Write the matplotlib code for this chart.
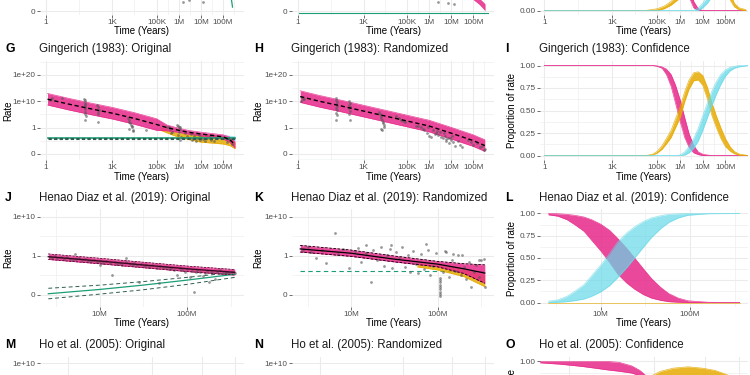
import numpy as np
import matplotlib
matplotlib.use("Agg")
import matplotlib.pyplot as plt
from matplotlib.ticker import FixedLocator, FixedFormatter, NullFormatter

plt.rcParams['font.family'] = ['Liberation Sans', 'DejaVu Sans']

# ======================= data =======================
TIME_TICKS = [1, 1e3, 1e5, 1e6, 1e7, 1e8]
TIME_LABELS = ["1", "1K", "100K", "1M", "10M", "100M"]
TIME_MINOR = [31.6, 1e4, 3.16e5, 3.16e6, 3.16e7, 3.16e8]
HD_TICKS = [1e7, 1e8]
HD_LABELS = ["10M", "100M"]
HD_MINOR = [3.16e6, 3.16e7, 3.16e8]
HO_GRID = [4.9e4, 5.6e6, 9.3e7, 6.0e8]
RATE_TICKS = [0, 1, 1e10, 1e20]
RATE_LABELS = ["0", "1", "1e+10", "1e+20"]
RATE_MINOR = [0.5, 1e5, 1e15, 1e25]
PROP_TICKS = [0, 0.25, 0.5, 0.75, 1.0]
PROP_LABELS = ["0.00", "0.25", "0.50", "0.75", "1.00"]
PROP_MINOR = [0.125, 0.375, 0.625, 0.875]

# --- top row (only bottom strip visible) ---
D_POINTS = [(1.5e6, 0.36), (3e6, 0.40), (1.2e7, 0.33)]
D_GREEN_T = [2.3e8, 2.5e8, 2.7e8]
D_GREEN_R = [0.55, 0.35, 0.15]
E_POINTS = [(2.4e6, 0.34), (6.8e6, 0.30), (1.4e7, 0.27)]
E_GREEN_T = [1.2, 5e8]
E_GREEN_R = [-0.07, -0.07]
E_PINK_T = [1e8, 2e8, 3.5e8]
E_PINK_LO = [0.45, 0.25, 0.03]
E_PINK_HI = [0.65, 0.45, 0.25]
F_T = [1, 3e4, 1e5, 2e5, 4e5, 8e5, 1.6e6, 2.5e6, 4e6, 6.3e6, 1e7, 1.6e7, 2.5e7, 5e7, 1e8, 1.6e8, 2.5e8, 4e8, 8e8]
F_GOLD_LO = [0, 0, 0, .02, .06, .12, .22, .30, .38, .45, .50, .55, .55, .50, .30, .12, .04, .01, 0]
F_GOLD_HI = [0, 0, .02, .05, .10, .18, .30, .40, .48, .55, .60, .65, .65, .60, .42, .20, .08, .03, .01]
F_PINK_LO = [1, 1, 1, 1, .99, .90, .40, .15, .03, 0, 0, 0, 0, 0, 0, 0, 0, 0, 0]
F_PINK_HI = [1, 1, 1, 1, 1, .98, .60, .30, .10, .02, 0, 0, 0, 0, 0, 0, 0, 0, 0]
F_CYAN_LO = [0, 0, 0, 0, 0, 0, 0, 0, 0, 0, .03, .08, .15, .30, .60, .85, .95, .99, 1]
F_CYAN_HI = [0, 0, 0, 0, 0, 0, 0, 0, 0, .03, .08, .15, .25, .42, .70, .88, .97, 1, 1]

# --- G: Gingerich (1983) Original ---
G_POINTS = [(1.6, 3e10), (1.8, 8e10), (2.0, 1.5e11), (5.4, 2.5e11),
            (55, 1e11), (57, 2e5), (58, 3e10), (58, 5e7), (60, 6e9), (60, 3e8), (60, 1e6), (60, 800),
            (62, 1e9), (62, 8e6), (63, 3e4),
            (210, 4e8), (220, 1e6), (230, 5e7), (230, 200), (240, 2e5), (250, 6e6),
            (5000, 4000), (5500, 800), (6000, 200), (6000, 0.95), (6500, 50), (7000, 12), (7500, 3),
            (8000, 1.5), (8500, 0.9), (9000, 0.88), (3.5e4, 0.91),
            (3e5, 2), (3.5e5, 1.2), (4e5, 0.95), (4.5e5, 0.8), (5e5, 0.85),
            (8e5, 15), (9e5, 5), (9e5, 0.72), (1e6, 2), (1e6, 0.85), (1.1e6, 1.2), (1.1e6, 0.55),
            (1.2e6, 0.95), (1.3e6, 0.65), (1.5e6, 0.6),
            (2e6, 0.8), (2.5e6, 0.7), (3e6, 0.62), (3.5e6, 0.75), (4e6, 0.55), (5e6, 0.68), (6e6, 0.5),
            (7e6, 0.6), (8e6, 0.72), (9e6, 0.52), (1e7, 0.65), (1.2e7, 0.58), (1.5e7, 0.48), (2e7, 0.62),
            (2.5e7, 0.7), (3e7, 0.55), (4e7, 0.5),
            (1e8, 0.6), (1.5e8, 0.45), (2e8, 0.55), (2.5e8, 0.38)]
G_T = [1.2, 10, 100, 1e3, 1e4, 1e5, 3e5, 1e6, 3e6, 1e7, 3e7, 1e8, 2e8, 3.5e8]
G_MID = [6.3e10, 1e9, 1.6e7, 3.2e5, 3.2e3, 16, 1.0, 0.9, 0.82, 0.76, 0.71, 0.65, 0.55, 0.35]
G_LO = [4e8, 6.3e6, 1e5, 2e3, 20, 0.9, 0.88, 0.82, 0.75, 0.69, 0.64, 0.57, 0.45, 0.23]
G_HI = [1e13, 1.6e11, 2.5e9, 5e7, 5e5, 2.5e3, 10, 0.98, 0.89, 0.83, 0.78, 0.73, 0.65, 0.47]
G_GOLD_T = [1.5e5, 1e6, 1e7, 1e8, 2e8, 3.5e8]
G_GOLD_LO = [0.9, 0.63, 0.45, 0.38, 0.32, 0.2]
G_GOLD_HI = [1.0, 0.8, 0.72, 0.66, 0.58, 0.42]
G_CYAN_T = [5e6, 1e7, 1e8, 3.5e8]
G_CYAN_LO = [0.62, 0.6, 0.58, 0.52]
G_CYAN_HI = [0.75, 0.72, 0.7, 0.66]
G_NULL_T = [1.2, 3.5e8]
G_NULL_MID = [0.6, 0.6]
G_NULL_LO = [0.575, 0.575]
G_NULL_HI = [0.625, 0.625]

# --- H: Gingerich (1983) Randomized ---
H_POINTS = [(1.4, 1e10), (1.5, 3e11), (1.7, 5e10), (2.0, 1e11),
            (55, 4e10), (57, 2e11), (57, 1e9), (58, 3e7), (58, 800), (56, 5e5), (60, 8e9), (60, 4e6),
            (60, 5e4), (62, 2e8),
            (210, 4e8), (220, 1e10), (220, 2e7), (225, 2e5), (230, 2e9), (230, 3e6), (235, 800), (240, 1e8),
            (5000, 1e6), (5500, 2e5), (6000, 3e4), (6000, 0.95), (6500, 6e3), (7000, 1e3), (7000, 0.91),
            (7500, 200), (8000, 40), (8500, 8), (9000, 2),
            (3e4, 3e4), (4e4, 5e3), (5e4, 1e3), (6e4, 300), (8e4, 100),
            (2.5e5, 6), (3e5, 3), (4e5, 1.5), (5e5, 0.95), (6e5, 0.9), (8e5, 0.8), (9e5, 1.2), (1e6, 0.7),
            (1.2e6, 0.65), (1.5e6, 0.9), (1.8e6, 0.75), (2e6, 0.8), (2.2e6, 0.88), (2.5e6, 0.72), (3e6, 0.85),
            (3.5e6, 0.65), (4e6, 0.6), (4.5e6, 0.78), (5e6, 0.7), (5.5e6, 0.58), (6e6, 0.5), (7e6, 0.62),
            (8e6, 0.4), (9e6, 0.6), (1e7, 0.55), (1.1e7, 0.7), (1.2e7, 0.45), (1.5e7, 0.3), (2e7, 0.5),
            (2.5e7, 0.35), (3e7, 0.25),
            (6e7, 0.55), (8e7, 0.45), (1e8, 0.35), (1.5e8, 0.4), (2e8, 0.25), (2.5e8, 0.3), (3e8, 0.15),
            (3.5e8, 0.2)]
H_T = [1.3, 10, 100, 1e3, 1e4, 1e5, 1e6, 1e7, 1e8, 3.4e8]
H_MID = [6.3e11, 1e10, 1.6e8, 2e6, 2.5e4, 316, 4, 0.79, 0.51, 0.32]
H_LO = [4e9, 6.3e7, 1e6, 1.26e4, 158, 2, 0.84, 0.57, 0.29, 0.1]
H_HI = [1e14, 1.6e12, 2.5e10, 3.2e8, 4e6, 5e4, 630, 1.26, 0.73, 0.54]
H_NULL_T = [1.2, 4e8]
H_NULL_R = [-0.22, -0.22]

# --- I: Gingerich (1983) Confidence ---
I_T = [1, 3.2e4, 6.3e4, 1e5, 1.6e5, 2.5e5, 4e5, 6.3e5, 1e6, 1.6e6, 2.5e6, 4e6, 6.3e6, 1e7, 1.6e7,
       2.5e7, 4e7, 6.3e7, 1e8, 1.6e8, 2.5e8, 4e8, 1e9]
I_PINK_HI = [1, 1, 1, .995, .985, .96, .90, .78, .62, .42, .24, .11, .04, .015, .005, 0, 0, 0, 0, 0, 0, 0, 0]
I_PINK_LO = [1, 1, 1, .99, .97, .90, .77, .58, .38, .20, .09, .03, .01, 0, 0, 0, 0, 0, 0, 0, 0, 0, 0]
I_GOLD_HI = [0, 0, .015, .05, .11, .19, .28, .41, .54, .71, .84, .92, .93, .89, .76, .59, .44, .31, .19, .10, .045, .017, 0]
I_GOLD_LO = [0, 0, .005, .03, .07, .13, .20, .31, .42, .60, .74, .83, .84, .78, .63, .45, .31, .19, .10, .05, .02, .005, 0]
I_CYAN_HI = [0, 0, 0, 0, 0, 0, 0, 0, .005, .04, .10, .19, .30, .44, .58, .71, .82, .90, .95, .98, .99, 1, 1]
I_CYAN_LO = [0, 0, 0, 0, 0, 0, 0, 0, 0, .005, .03, .08, .16, .28, .42, .55, .68, .79, .88, .94, .97, .985, 1]

# --- J: Henao Diaz et al. (2019) Original ---
J_POINTS = [(2.7e6, .97), (2.9e6, .95), (3.1e6, .99), (3.3e6, .94), (3.6e6, .96), (3.9e6, .92), (4.2e6, .97),
            (4.6e6, .93), (5.0e6, .90), (5.2e6, 3.2), (5.4e6, .91), (5.8e6, .94), (6.3e6, .89), (6.8e6, .92),
            (7.4e6, .88), (8.0e6, .86), (8.6e6, .90), (9.3e6, .84), (1.0e7, .88), (1.0e7, .77), (1.1e7, .83),
            (1.2e7, .86), (1.3e7, .82), (1.4e7, .51), (1.5e7, .85), (1.6e7, .80), (1.7e7, .83), (1.8e7, .78),
            (2.0e7, .84), (2.0e7, .94), (2.2e7, .79), (2.4e7, .76), (2.5e7, .82), (2.7e7, .77), (2.8e7, .34),
            (3.0e7, .80), (3.2e7, .74), (3.4e7, .78), (3.7e7, .72), (4.0e7, .76), (4.5e7, .70), (4.8e7, .31),
            (4.9e7, .74), (5.3e7, .68), (5.7e7, .72), (6.2e7, .66), (6.6e7, .70), (7.1e7, .64), (7.6e7, .50),
            (8.2e7, .68), (8.8e7, .63), (9.4e7, .60), (1.0e8, .66), (1.07e8, .45), (1.15e8, .62), (1.2e8, .08),
            (1.25e8, .58), (1.3e8, .64), (1.4e8, .60), (1.5e8, .48), (1.6e8, .57), (1.7e8, .62), (1.8e8, .34),
            (1.9e8, .60), (2.0e8, .55), (2.1e8, .40), (2.2e8, .58), (2.4e8, .63), (2.6e8, .56), (2.8e8, .59),
            (3.0e8, .55), (3.3e8, .60), (3.5e8, .56)]
J_T = [2.6e6, 1e7, 3.1e7, 1e8, 3.5e8]
J_MID = [0.98, 0.87, 0.77, 0.67, 0.58]
J_LO = [0.91, 0.80, 0.70, 0.60, 0.51]
J_HI = [3.2, 0.94, 0.84, 0.74, 0.65]
J_NULL_MID = [0.03, 0.14, 0.25, 0.38, 0.53]
J_NULL_LO = [-0.10, 0.02, 0.13, 0.27, 0.45]
J_NULL_HI = [0.17, 0.25, 0.34, 0.45, 0.58]

# --- K: Henao Diaz et al. (2019) Randomized ---
K_POINTS = [(2.8e6, 30), (3.2e6, 150), (3.5e6, 8), (4.0e6, .95), (4.6e6, 40), (5.2e6, .81), (6.5e6, 1e6),
            (7.0e6, 3), (8.0e6, 60), (9.6e6, .70), (1.1e7, 20), (1.2e7, 100), (1.3e7, .85), (1.5e7, 5),
            (1.5e7, 500), (1.7e7, .32), (1.8e7, 30), (2.0e7, .90), (2.2e7, 200), (2.4e7, .75), (2.6e7, 2),
            (2.8e7, 60), (2.9e7, 800), (3.0e7, .68), (3.3e7, 8), (3.6e7, .95), (3.9e7, 250), (4.2e7, .72),
            (4.5e7, 1.5), (4.8e7, .60), (5.2e7, 15), (5.6e7, .80), (6.0e7, .55), (6.5e7, 3), (7.0e7, .66),
            (7.4e7, 1000), (7.8e7, 40), (8.2e7, .50), (8.8e7, .75), (9.5e7, 6),
            (1.07e8, .44), (1.07e8, .38), (1.07e8, .32), (1.07e8, .26), (1.07e8, .20), (1.07e8, .14),
            (1.07e8, .08), (1.07e8, .02), (1.07e8, -.04),
            (1.15e8, .58), (1.2e8, 20), (1.25e8, 10), (1.35e8, .45), (1.45e8, .90), (1.5e8, 4), (1.6e8, .62),
            (1.7e8, 2), (1.85e8, .50), (1.9e8, 2), (2.0e8, .72), (2.15e8, .40), (2.3e8, .85), (2.4e8, .21),
            (2.6e8, .60), (2.8e8, .78), (3.0e8, .90), (3.0e8, .45), (3.2e8, .90), (3.4e8, .92), (3.5e8, .21)]
K_T = [2.6e6, 1e7, 3.1e7, 1e8, 2e8, 3.5e8]
K_MID = [63, 5, 0.92, 0.79, 0.67, 0.56]
K_LO = [10, 0.99, 0.85, 0.72, 0.55, 0.30]
K_HI = [500, 32, 1.0, 0.86, 0.80, 0.77]
K_GOLD_T = [5.8e7, 1e8, 2e8, 3.5e8]
K_GOLD_LO = [0.72, 0.64, 0.47, 0.21]
K_GOLD_HI = [0.80, 0.76, 0.66, 0.50]
K_NULL_T = [2.6e6, 3.5e8]
K_NULL_R = [0.62, 0.62]

# --- L: Henao Diaz et al. (2019) Confidence ---
L_T = [2.6e6, 3.3e6, 4.2e6, 5.2e6, 6.5e6, 7.9e6, 1e7, 1.26e7, 1.55e7, 1.95e7, 2.4e7, 3e7, 3.7e7, 4.7e7,
       5.8e7, 7.4e7, 9.5e7, 1.6e8, 3.6e8]
L_PINK_HI = [1, .997, .99, .978, .96, .93, .88, .81, .72, .61, .50, .38, .27, .17, .10, .05, .02, .003, 0]
L_PINK_LO = [.985, .97, .93, .87, .80, .70, .58, .45, .32, .22, .15, .09, .05, .025, .01, .004, 0, 0, 0]
L_CYAN_LO = [0, .003, .01, .022, .04, .07, .12, .19, .28, .39, .50, .62, .73, .83, .90, .95, .98, .997, 1]
L_CYAN_HI = [.015, .03, .07, .13, .20, .30, .42, .55, .68, .78, .85, .91, .95, .975, .99, .996, 1, 1, 1]
L_GOLD_T = [2.6e6, 3.6e8]
L_GOLD_R = [0, 0]

# --- O: Ho et al. (2005) Confidence (top strip visible) ---
O_PINK_T = [1e4, 3e4, 1e5, 2.5e5, 4.3e5, 8e5, 1.6e6, 2.5e6, 4e6, 6.3e6, 1e7, 2e7]
O_PINK_HI = [1, 1, 1, 1, 1, .99, .95, .90, .82, .72, .60, .45]
O_PINK_LO = [.985, .97, .945, .92, .905, .89, .87, .84, .78, .70, .58, .42]
O_GOLD_T = [1.6e6, 2.5e6, 4e6, 7.9e6, 1.6e7, 3.6e7, 7.9e7, 1.6e8, 3.2e8, 5e8, 7.9e8]
O_GOLD_HI = [.55, .70, .82, .89, .925, .94, .925, .90, .85, .80, .70]
O_GOLD_LO = [.40, .50, .62, .72, .78, .80, .78, .73, .65, .58, .50]

# ======================= style =======================
PINK, GOLD, CYAN = "#E7298A", "#E6AB02", "#66D9E8"
GREEN, DKGREEN, PTC = "#1B9E77", "#2E5E50", "#555555"
GRID = "#EBEBEB"
W, H = 750, 375
COLS = [(40, 244), (292, 494), (540, 748)]
TAG_X = [5, 254, 505]
YLAB_X = [8, 258, 512]
ROWS = {'top': (-84, 15), 'g': (61, 160), 'j': (209, 307), 'm': (357, 455)}
TITLE_Y = {'g': 49, 'j': 198, 'm': 345}

TIME_XLIM = (10 ** -0.26, 10 ** 8.95)
TIME_XLIM_C = (10 ** -0.19, 10 ** 9.0)
HD_XLIM = (10 ** 6.32, 10 ** 8.65)
HO_XLIM = (1e4, 1e9)
PROP_YLIM = (-0.05, 1.05)


def rate_fwd(y):
    y = np.asarray(y, dtype=float)
    return np.where(y <= 1, y, 1 + np.log10(np.clip(y, 1, None)) / 10)


def rate_inv(u):
    u = np.asarray(u, dtype=float)
    return np.where(u <= 1, u, 10 ** ((np.clip(u, 1, 40) - 1) * 10))


fig = plt.figure(figsize=(7.5, 3.75), dpi=100)
fig.patch.set_facecolor("white")


def panel(col, row, xkind, ykind, xlabel=True, ylabel=None):
    x0, x1 = COLS[col]
    y0, y1 = ROWS[row]
    ax = fig.add_axes([x0 / W, 1 - y1 / H, (x1 - x0) / W, (y1 - y0) / H])
    ax.set_xscale('log')
    if xkind == 'time':
        ax.set_xlim(*(TIME_XLIM_C if col == 2 else TIME_XLIM))
        xt, xl, xm = TIME_TICKS, TIME_LABELS, TIME_MINOR
    elif xkind == 'hd':
        ax.set_xlim(*HD_XLIM)
        xt, xl, xm = HD_TICKS, HD_LABELS, HD_MINOR
    else:
        ax.set_xlim(*HO_XLIM)
        xt, xl, xm = HO_GRID, [""] * len(HO_GRID), []
    ax.xaxis.set_major_locator(FixedLocator(xt))
    ax.xaxis.set_major_formatter(FixedFormatter(xl))
    ax.xaxis.set_minor_locator(FixedLocator(xm))
    ax.xaxis.set_minor_formatter(NullFormatter())
    if ykind == 'prop':
        ax.set_ylim(*PROP_YLIM)
        yt, yl, ym = PROP_TICKS, PROP_LABELS, PROP_MINOR
    else:
        ax.set_yscale('function', functions=(rate_fwd, rate_inv))
        lims = {'top': (-0.15, 1e26), 'g': (-0.228, 2e25), 'j': (-0.31, 1.1e12), 'm': (-0.36, 3.5e11)}
        ax.set_ylim(*lims[row])
        yt, yl, ym = RATE_TICKS, RATE_LABELS, RATE_MINOR
    ax.yaxis.set_major_locator(FixedLocator(yt))
    ax.yaxis.set_major_formatter(FixedFormatter(yl))
    ax.yaxis.set_minor_locator(FixedLocator(ym))
    ax.yaxis.set_minor_formatter(NullFormatter())
    for s in ax.spines.values():
        s.set_visible(False)
    ax.set_axisbelow(True)
    ax.grid(True, which='major', color=GRID, lw=0.75)
    ax.grid(True, which='minor', color=GRID, lw=0.4)
    ax.tick_params(which='major', length=2, width=0.5, color='#333333', labelsize=5.9,
                   labelcolor='#4D4D4D', pad=1.2)
    ax.tick_params(which='minor', length=0)
    h = y1 - y0
    if xlabel:
        ax.set_xlabel("Time (Years)", fontsize=7, color='black')
        ax.xaxis.set_label_coords(0.5, -16.5 / h)
        ax.xaxis.label.set_va('center')
    if ylabel:
        ax.set_ylabel(ylabel, fontsize=7, color='black')
        ax.yaxis.set_label_coords((YLAB_X[col] - x0) / (x1 - x0), 0.5)
        ax.yaxis.label.set_va('center')
    return ax


def heading(col, row, tag, text):
    y = 1 - TITLE_Y[row] / H
    fig.text(TAG_X[col] / W, y, tag, fontsize=8.8, fontweight='bold', va='center', ha='left')
    fig.text((COLS[col][0] - 1) / W, y, text, fontsize=8.3, va='center', ha='left', color='#1A1A1A')


def band(ax, t, lo, hi, color, alpha, z=2, edge=True):
    ax.fill_between(t, lo, hi, color=color, alpha=alpha, lw=0, zorder=z)
    if edge:
        ax.plot(t, lo, color=color, lw=0.5, alpha=alpha, zorder=z)
        ax.plot(t, hi, color=color, lw=0.5, alpha=alpha, zorder=z)


def points(ax, pts, z=3):
    t, r = np.array(pts).T
    ax.scatter(t, r, s=4, c=PTC, alpha=0.6, lw=0, zorder=z)


# ---------------- top row ----------------
axD = panel(0, 'top', 'time', 'rate')
points(axD, D_POINTS)
axD.plot(D_GREEN_T, D_GREEN_R, color=GREEN, lw=0.9, zorder=4)

axE = panel(1, 'top', 'time', 'rate')
axE.plot(E_GREEN_T, E_GREEN_R, color=GREEN, lw=0.8, zorder=2)
points(axE, E_POINTS)
band(axE, E_PINK_T, E_PINK_LO, E_PINK_HI, PINK, 0.85)

axF = panel(2, 'top', 'time', 'prop')
band(axF, F_T, F_PINK_LO, F_PINK_HI, PINK, 0.85)
band(axF, F_T, F_GOLD_LO, F_GOLD_HI, GOLD, 0.85)
band(axF, F_T, F_CYAN_LO, F_CYAN_HI, CYAN, 0.75)

# ---------------- G ----------------
axG = panel(0, 'g', 'time', 'rate', ylabel="Rate")
heading(0, 'g', "G", "Gingerich (1983): Original")
band(axG, G_CYAN_T, G_CYAN_LO, G_CYAN_HI, CYAN, 0.75)
band(axG, G_GOLD_T, G_GOLD_LO, G_GOLD_HI, GOLD, 0.85)
band(axG, G_T, G_LO, G_HI, PINK, 0.85)
points(axG, G_POINTS)
axG.plot(G_NULL_T, G_NULL_MID, color=GREEN, lw=1.2, zorder=4)
axG.plot(G_NULL_T, G_NULL_LO, color=DKGREEN, lw=0.8, ls=(0, (3, 2)), zorder=5)
axG.plot(G_NULL_T, G_NULL_HI, color=DKGREEN, lw=0.8, ls=(0, (3, 2)), zorder=5)
axG.plot(G_T, G_MID, color='black', lw=1.0, ls=(0, (3, 2)), zorder=6)

# ---------------- H ----------------
axH = panel(1, 'g', 'time', 'rate', ylabel="Rate")
heading(1, 'g', "H", "Gingerich (1983): Randomized")
band(axH, H_T, H_LO, H_HI, PINK, 0.85)
points(axH, H_POINTS)
axH.plot(H_NULL_T, H_NULL_R, color=GREEN, lw=0.8, zorder=4)
axH.plot(H_T, H_MID, color='black', lw=1.0, ls=(0, (3, 2)), zorder=6)

# ---------------- I ----------------
axI = panel(2, 'g', 'time', 'prop', ylabel="Proportion of rate")
heading(2, 'g', "I", "Gingerich (1983): Confidence")
band(axI, I_T, I_PINK_LO, I_PINK_HI, PINK, 0.85)
band(axI, I_T, I_GOLD_LO, I_GOLD_HI, GOLD, 0.85)
band(axI, I_T, I_CYAN_LO, I_CYAN_HI, CYAN, 0.75)

# ---------------- J ----------------
axJ = panel(0, 'j', 'hd', 'rate', ylabel="Rate")
heading(0, 'j', "J", "Henao Diaz et al. (2019): Original")
band(axJ, J_T, J_LO, J_HI, PINK, 0.85)
axJ.plot(J_T, J_NULL_MID, color=GREEN, lw=0.9, zorder=4)
axJ.plot(J_T, J_NULL_LO, color=DKGREEN, lw=0.7, ls=(0, (4, 3)), zorder=4)
axJ.plot(J_T, J_NULL_HI, color=DKGREEN, lw=0.7, ls=(0, (4, 3)), zorder=4)
points(axJ, J_POINTS, z=5)
axJ.plot(J_T, J_MID, color='#3A0A22', lw=1.0, zorder=6)
axJ.plot(J_T, J_LO, color='#3A0A22', lw=0.5, ls=(0, (3, 2)), zorder=6)
axJ.plot(J_T, J_HI, color='#3A0A22', lw=0.5, ls=(0, (3, 2)), zorder=6)

# ---------------- K ----------------
axK = panel(1, 'j', 'hd', 'rate', ylabel="Rate")
heading(1, 'j', "K", "Henao Diaz et al. (2019): Randomized")
axK.plot(K_NULL_T, K_NULL_R, color=GREEN, lw=0.8, ls=(0, (4, 3)), zorder=2)
band(axK, K_GOLD_T, K_GOLD_LO, K_GOLD_HI, GOLD, 0.85)
band(axK, K_T, K_LO, K_HI, PINK, 0.85)
points(axK, K_POINTS, z=5)
axK.plot(K_T, K_MID, color='black', lw=0.9, zorder=6)
axK.plot(K_T, K_LO, color='black', lw=0.6, ls=(0, (3, 2)), zorder=6)
axK.plot(K_T, K_HI, color='black', lw=0.6, ls=(0, (3, 2)), zorder=6)

# ---------------- L ----------------
axL = panel(2, 'j', 'hd', 'prop', ylabel="Proportion of rate")
heading(2, 'j', "L", "Henao Diaz et al. (2019): Confidence")
axL.plot(L_GOLD_T, L_GOLD_R, color=GOLD, lw=0.5, alpha=0.85, zorder=2)
band(axL, L_T, L_PINK_LO, L_PINK_HI, PINK, 0.85)
band(axL, L_T, L_CYAN_LO, L_CYAN_HI, CYAN, 0.7)

# ---------------- M / N / O ----------------
axM = panel(0, 'm', 'ho', 'rate', xlabel=False, ylabel="Rate")
heading(0, 'm', "M", "Ho et al. (2005): Original")
axN = panel(1, 'm', 'ho', 'rate', xlabel=False, ylabel="Rate")
heading(1, 'm', "N", "Ho et al. (2005): Randomized")
axO = panel(2, 'm', 'ho', 'prop', xlabel=False, ylabel="Proportion of rate")
heading(2, 'm', "O", "Ho et al. (2005): Confidence")
band(axO, O_PINK_T, O_PINK_LO, O_PINK_HI, PINK, 0.85)
band(axO, O_GOLD_T, O_GOLD_LO, O_GOLD_HI, GOLD, 0.85)

# hide labels that fall completely outside the (cropped) canvas
fig.canvas.draw()
renderer = fig.canvas.get_renderer()
for ax in fig.axes:
    labs = ax.get_xticklabels() + ax.get_yticklabels() + [ax.xaxis.label, ax.yaxis.label]
    for lab in labs:
        if not lab.get_text():
            continue
        bb = lab.get_window_extent(renderer)
        if bb.y1 <= 0 or bb.y0 >= H or bb.x1 <= 0 or bb.x0 >= W:
            lab.set_visible(False)

fig.savefig("out.png", dpi=100)
